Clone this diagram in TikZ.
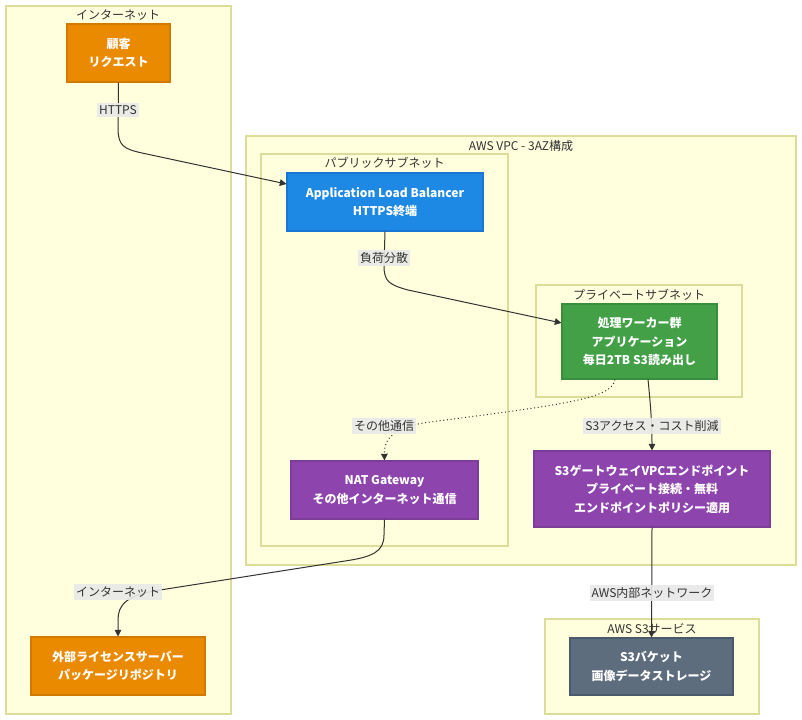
\documentclass[tikz,border=0pt]{standalone}
\usepackage{fontspec}
\setmainfont{Noto Sans CJK JP}
\usetikzlibrary{arrows.meta,fit}
\definecolor{clfill}{HTML}{FFFFDE}
\definecolor{cldraw}{HTML}{DDDD99}
\definecolor{orng}{HTML}{EA8A00}
\definecolor{orngd}{HTML}{D27A00}
\definecolor{blu}{HTML}{1E88E5}
\definecolor{blud}{HTML}{1976D2}
\definecolor{grn}{HTML}{43A047}
\definecolor{grnd}{HTML}{388E3C}
\definecolor{prp}{HTML}{8E44AD}
\definecolor{prpd}{HTML}{7D3C98}
\definecolor{slt}{HTML}{5D6D7E}
\definecolor{sltd}{HTML}{4A5A6A}
\definecolor{txt}{HTML}{333333}
\definecolor{lblbg}{HTML}{E8E8E8}
\tikzset{
  cluster/.style={draw=cldraw, fill=clfill, line width=0.8pt},
  cltitle/.style={text=txt, font=\fontsize{9}{11}\selectfont, inner sep=0pt},
  box/.style={inner sep=0pt, text=white, align=center, line width=0.8pt,
    font=\bfseries\fontsize{9}{13.8}\selectfont},
  orangebox/.style={box, fill=orng, draw=orngd},
  bluebox/.style={box, fill=blu, draw=blud},
  greenbox/.style={box, fill=grn, draw=grnd},
  purplebox/.style={box, fill=prp, draw=prpd},
  slatebox/.style={box, fill=slt, draw=sltd},
  edge/.style={draw=txt, line width=0.75pt, -{Triangle[length=5pt,width=5pt]}},
  elabel/.style={fill=lblbg, fill opacity=0.9, text opacity=1, text=txt,
    font=\fontsize{9}{11}\selectfont, inner xsep=1.5pt, inner ysep=2pt}
}
\begin{document}
\begin{tikzpicture}[x=0.75pt,y=-0.75pt]
\useasboundingbox (0,0) rectangle (802,720);
% clusters
\draw[cluster] (6,6) rectangle (231,714);
\node[cltitle] (tinet) at (118,15) {インターネット};
\draw[cluster] (246,136) rectangle (796,565);
\node[cltitle] (tvpc) at (521,146) {AWS VPC - 3AZ構成};
\draw[cluster] (261,154) rectangle (508,546);
\node[cltitle] (tpub) at (384.5,163) {パブリックサブネット};
\draw[cluster] (536,285) rectangle (742,397);
\node[cltitle] (tpriv) at (639,295) {プライベートサブネット};
\draw[cluster] (545,619) rectangle (759,714);
\node[cltitle] (ts3) at (652,629) {AWS S3サービス};
% nodes
\node[orangebox, fit={(67,24) (170,82)}] (cust) {};
\node[box] at (cust.center) {顧客\\リクエスト};
\node[bluebox, fit={(287,173) (483,231)}] (alb) {};
\node[box] at (alb.center) {Application Load Balancer\\HTTPS終端};
\node[greenbox, fit={(562,304) (717,379)}] (work) {};
\node[box] at (work.center) {処理ワーカー群\\アプリケーション\\毎日2TB S3読み出し};
\node[purplebox, fit={(291,461) (478,519)}] (nat) {};
\node[box] at (nat.center) {NAT Gateway\\その他インターネット通信};
\node[purplebox, fit={(534,451) (770,527)}] (s3gw) {};
\node[box] at (s3gw.center) {S3ゲートウェイVPCエンドポイント\\プライベート接続・無料\\エンドポイントポリシー適用};
\node[orangebox, fit={(31,637) (205,695)}] (ext) {};
\node[box] at (ext.center) {外部ライセンスサーバー\\パッケージリポジトリ};
\node[slatebox, fit={(570,638) (733,695)}] (bucket) {};
\node[box] at (bucket.center) {S3バケット\\画像データストレージ};
% edges
\draw[edge] (cust.south) -- (118,128) .. controls (118,146) and (124,149) .. (142,153) -- ([yshift=13.5pt]alb.west);
\node[elabel] (l1) at (118,110) {HTTPS};
\draw[edge] (alb.south) -- (384,266) .. controls (384,282) and (390,285) .. (408,290) -- ([yshift=13.9pt]work.west);
\node[elabel] (l2) at (384,258) {負荷分散};
\draw[edge, dotted] ([xshift=-18.4pt]work.south) .. controls (612,398) and (570,404) .. (430,422) .. controls (392,427) and (384,440) .. (nat.north);
\node[elabel] (l3) at (384,426) {その他通信};
\draw[edge] ([xshift=6.4pt]work.south) .. controls (650,400) and (652,420) .. (s3gw.north);
\node[elabel] (l4) at (652,426) {S3アクセス・コスト削減};
\draw[edge] (nat.south) -- (384,535) .. controls (384,552) and (372,557) .. (345,561) -- (160,590) .. controls (126,595) and (118,605) .. (118,620) -- (ext.north);
\node[elabel] (l5) at (118,592) {インターネット};
\draw[edge] (s3gw.south) -- (bucket.north);
\node[elabel] (l6) at (652,593) {AWS内部ネットワーク};
\end{tikzpicture}
\end{document}
